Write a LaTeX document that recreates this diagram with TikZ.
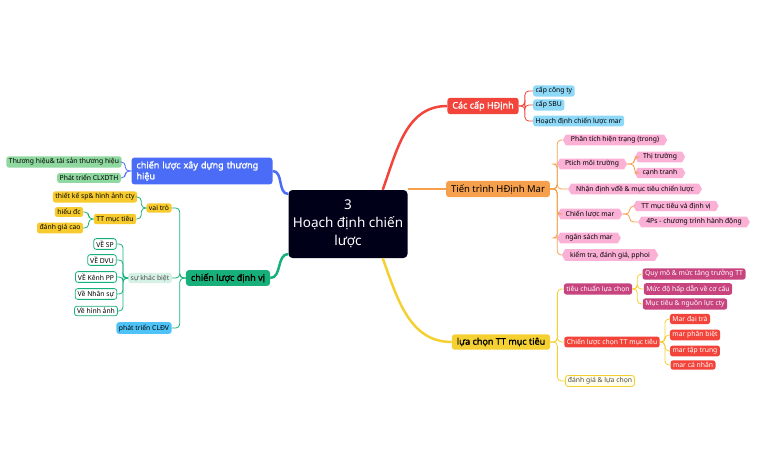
\documentclass[tikz,border=0pt]{standalone}
\usepackage{fontspec}
\setmainfont{Noto Sans}[AutoFakeBold=1.6]
\usetikzlibrary{shapes.symbols}
\definecolor{cred}{HTML}{F2443A}
\definecolor{corange}{HTML}{F6A04D}
\definecolor{cyel}{HTML}{F5D033}
\definecolor{cblue}{HTML}{4A6CF7}
\definecolor{cgreen}{HTML}{17B07B}
\definecolor{lblue}{HTML}{8ED8F8}
\definecolor{pink}{HTML}{FBB0D6}
\definecolor{mag}{HTML}{C8447F}
\definecolor{lgreen}{HTML}{8FD9A0}
\definecolor{mint}{HTML}{D6F2E6}
\definecolor{yel}{HTML}{F7CB2E}
\definecolor{sky}{HTML}{4FC3F7}
\begin{document}
\begin{tikzpicture}[x=1pt,y=-1pt,
 small/.style={rounded corners=2.5pt,inner xsep=2.5pt,inner ysep=2pt,font=\fontsize{6.8}{8}\selectfont,text=black},
 main/.style={rounded corners=3pt,inner xsep=5pt,inner ysep=3.5pt,font=\fontsize{9}{11}\selectfont\bfseries},
 hexa/.style={small,signal,signal to=west and east,signal pointer angle=120,fill=pink,inner xsep=5pt,rounded corners=0pt},
 R/.style={draw=#1,line width=0.8pt,rounded corners=4pt},
]
\useasboundingbox (0,0) rectangle (765,474);
\node[fill=black!90!blue,rounded corners=4pt,minimum width=119pt,minimum height=68pt,text=white,align=center,font=\fontsize{13.5}{18}\selectfont] (c) at (348,224) {3\\Hoạch định chiến\\lược};
\node[main,fill=cred,text=white] (a) at (483,106) {Các cấp HĐịnh};
\node[main,fill=corange,text=black,font=\fontsize{9.5}{11}\selectfont] (b) at (498,189) {Tiến trình HĐịnh Mar};
\node[main,fill=cyel,text=black] (d) at (501,342) {lựa chọn TT mục tiêu};
\node[main,fill=cblue,text=white,align=left,text width=131pt] (e) at (202,171) {chiến lược xây dựng thương hiệu};
\node[main,fill=cgreen,text=black] (f) at (228,278) {chiến lược định vị};
\draw[cred,line width=2.5pt] (c.north east)+(-25,0) to[out=70,in=180] (a.west);
\draw[corange,line width=2.5pt] (c.east)+(0,-35) to[out=0,in=180] (b.west);
\draw[cyel,line width=2.5pt] (c.south east)+(-25,0) to[out=-70,in=180] (d.west);
\draw[cblue,line width=2.5pt] (c.west)+(0,-30) to[out=180,in=0] (e.east);
\draw[cgreen,line width=2.5pt] (c.west)+(0,30) to[out=180,in=0] (f.east);
\foreach \n/\p/\t in {a1/{533,91}/cấp công ty,a2/{533,105}/cấp SBU,a3/{533,121}/Hoạch định chiến lược mar}{
 \node[small,fill=lblue,anchor=west] (\n) at (\p) {\t};
 \draw[R=cred] (a.east) -- ++(6,0) |- (\n.west);}
\node[hexa] (b1) at (615,140) {Phân tích hiện trạng (trong)};
\node[hexa] (b2) at (592,164) {Ptich môi trường};
\node[hexa] (b3) at (635,189) {Nhận định vđề \& mục tiêu chiến lược};
\node[hexa] (b4) at (590,214) {Chiến lược mar};
\node[hexa] (b5) at (589,238) {ngân sách mar};
\node[hexa] (b6) at (610,255) {kiểm tra, đánh giá, pphoi};
\foreach \n in {b1,b2,b3,b4,b5,b6}\draw[R=corange] (b.east) -- ++(7,0) |- (\n.west);
\node[hexa] (b21) at (660,157) {Thị trường};
\node[hexa] (b22) at (660,173) {cạnh tranh};
\node[hexa] (b41) at (676,206) {TT mục tiêu và định vị};
\node[hexa] (b42) at (694,222) {4Ps - chương trình hành động};
\foreach \n in {b21,b22}\draw[R=corange] (b2.east) -- ++(7,0) |- (\n.west);
\foreach \n in {b41,b42}\draw[R=corange] (b4.east) -- ++(7,0) |- (\n.west);
\node[small,fill=mag,text=white] (d1) at (598,289) {tiêu chuẩn lựa chọn};
\node[small,fill=cred,text=white] (d2) at (612,342) {Chiến lược chọn TT mục tiêu};
\node[small,fill=yellow!8,draw=cyel,line width=0.8pt,text=black!70] (d3) at (600,381) {đánh giá \& lựa chọn};
\foreach \n in {d1,d2,d3}\draw[R=cyel] (d.east) -- ++(7,0) |- (\n.west);
\foreach \n/\p/\t in {d11/{694,274}/Quy mô \& mức tăng trưởng TT,d12/{688,289}/Mức độ hấp dẫn về cơ cấu,d13/{685,304}/Mục tiêu \& nguồn lực cty}{
 \node[small,fill=mag,text=white] (\n) at (\p) {\t};
 \draw[R=cyel] (d1.east) -- ++(5,0) |- (\n.west);}
\foreach \n/\p/\t in {d21/{690,319}/Mar đại trà,d22/{695,335}/mar phân biệt,d23/{695,351}/mar tập trung,d24/{693,365}/mar cá nhân}{
 \node[small,fill=cred,text=white] (\n) at (\p) {\t};
 \draw[R=cyel] (d2.east) -- ++(5,0) |- (\n.west);}
\foreach \n/\p/\t in {e1/{64,162}/Thương hiệu\& tài sản thương hiệu,e2/{89,178}/Phát triển CLXDTH}{
 \node[small,fill=lgreen] (\n) at (\p) {\t};
 \draw[R=cblue] (e.west) -- ++(-6,0) |- (\n.east);}
\node[small,fill=yel] (f1) at (159,208) {vai trò};
\node[small,fill=mint,text=black!70] (f2) at (150,278) {sự khác biệt};
\node[small,fill=sky] (f3) at (144,328) {phát triển CLĐV};
\foreach \n in {f1,f2,f3}\draw[R=cgreen] (f.west) -- ++(-6,0) |- (\n.east);
\node[small,fill=yel] (f11) at (95,197) {thiết kế sp\& hình ảnh cty};
\node[small,fill=yel] (f12) at (115,219) {TT mục tiêu};
\foreach \n in {f11,f12}\draw[R=cgreen] (f1.west) -- ++(-5,0) |- (\n.east);
\node[small,fill=yel] (f121) at (69,212) {hiểu đc};
\node[small,fill=yel] (f122) at (60,228) {đánh giá cao};
\foreach \n in {f121,f122}\draw[R=cgreen] (f12.west) -- ++(-5,0) |- (\n.east);
\foreach \n/\p/\t in {f21/{105,244}/VỀ SP,f22/{102,260}/VỀ DVU,f23/{96,277}/VỀ Kênh PP,f24/{96,294}/Về Nhân sự,f25/{96,311}/Về hình ảnh}{
 \node[small,fill=white,draw=cgreen,line width=0.8pt] (\n) at (\p) {\t};
 \draw[R=cgreen] (f2.west) -- ++(-5,0) |- (\n.east);}
\end{tikzpicture}
\end{document}
